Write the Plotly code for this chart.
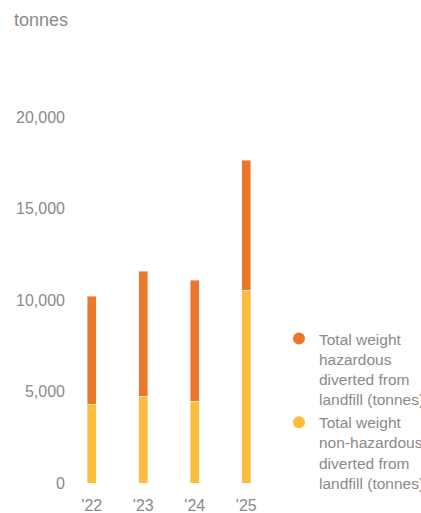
import plotly.graph_objects as go

years = ["'22", "'23", "'24", "'25"]
non_hazardous = [4320, 4750, 4480, 10550]
hazardous = [5900, 6830, 6610, 7100]

orange = "#EC7728"
yellow = "#FBBD3B"
gray = "#8a8a8a"
font = "Liberation Sans, Arial, sans-serif"

fig = go.Figure()
fig.add_bar(x=years, y=non_hazardous, marker_color=yellow, showlegend=False,
            name="Total weight<br>non-hazardous<br>diverted from<br>landfill (tonnes)")
fig.add_bar(x=years, y=hazardous, marker_color=orange, showlegend=False,
            name="Total weight<br>hazardous<br>diverted from<br>landfill (tonnes)")
# legend entries with circle markers
fig.add_scatter(x=[None], y=[None], mode="markers",
                marker=dict(color=orange, size=11, symbol="circle"),
                name="Total weight<br>hazardous<br>diverted from<br>landfill (tonnes)")
fig.add_scatter(x=[None], y=[None], mode="markers",
                marker=dict(color=yellow, size=11, symbol="circle"),
                name="Total weight<br>non-hazardous<br>diverted from<br>landfill (tonnes)")

fig.update_layout(
    width=421, height=513,
    barmode="stack", bargap=0.82,
    margin=dict(l=66, r=149, t=99, b=30, pad=0, autoexpand=False),
    paper_bgcolor="white", plot_bgcolor="white",
    font=dict(family=font, size=16, color=gray),
    showlegend=True,
    legend=dict(
        xref="container", yref="container",
        x=279/421, y=1-322/513, xanchor="left", yanchor="top",
        valign="top", traceorder="normal",
        font=dict(size=15.5, color=gray, family=font),
        itemsizing="constant", tracegroupgap=6,
        bgcolor="rgba(0,0,0,0)",
    ),
    xaxis=dict(type="category", showgrid=False, showline=False, zeroline=False,
               automargin=False,
               ticks="outside", ticklen=8, tickcolor="rgba(0,0,0,0)",
               tickfont=dict(size=16, color=gray)),
    yaxis=dict(range=[0, 21000], dtick=5000, tickformat=",", showgrid=False,
               automargin=False,
               showline=False, zeroline=False, ticks="",
               tickfont=dict(size=16, color=gray)),
    annotations=[dict(text="tonnes", xref="paper", yref="paper",
                      x=-54/206, y=1 + 79/384, xanchor="left", yanchor="middle",
                      showarrow=False, font=dict(size=18, color=gray, family=font))],
)

fig.write_html("out.html")
